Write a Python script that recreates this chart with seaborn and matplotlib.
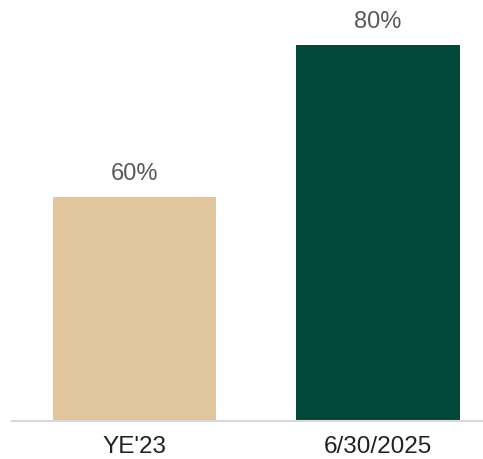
import matplotlib
matplotlib.use("Agg")
import matplotlib.pyplot as plt
import seaborn as sns
import pandas as pd

categories = ["YE'23", "6/30/2025"]
values = [60, 80]
labels = ["60%", "80%"]
colors = ["#E1C69E", "#02493B"]

sns.set_style("white")
plt.rcParams['font.family'] = ['Liberation Sans', 'DejaVu Sans']

df = pd.DataFrame({"cat": categories, "val": values})
fig = plt.figure(figsize=(4.83, 4.59), dpi=100)
ax = fig.add_axes([12/483, 38/459, 1 - 12/483, 1 - 38/459])
sns.barplot(data=df, x="cat", y="val", hue="cat", palette=colors, width=0.67,
            legend=False, ax=ax, saturation=1, linewidth=0)
ax.set_ylim(30.5, 85.9)
ax.set_xlim(-0.503, 1.431)
for i, (v, lab) in enumerate(zip(values, labels)):
    ax.annotate(lab, (i, v), xytext=(0, 16.5), textcoords="offset points",
                ha="center", va="center", fontsize=17, color="#595959")
for s in ["top", "right", "left"]:
    ax.spines[s].set_visible(False)
ax.spines["bottom"].set_color("#D9D9D9")
ax.spines["bottom"].set_linewidth(1.5)
ax.set_yticks([])
ax.set_xlabel("")
ax.set_ylabel("")
ax.tick_params(axis="x", length=0, pad=10.5, labelsize=17.5, labelcolor="#222222")
fig.savefig("out.png", dpi=100)
